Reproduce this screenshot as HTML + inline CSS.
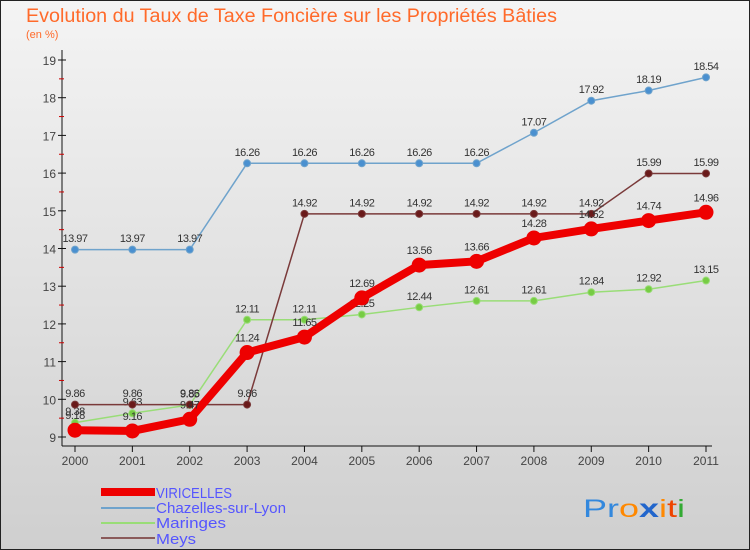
<!DOCTYPE html>
<html><head><meta charset="utf-8"><style>
body{margin:0;width:750px;height:550px;overflow:hidden;font-family:"Liberation Sans",sans-serif}
svg{display:block}
</style></head><body>
<svg id="chart" width="750" height="550" xmlns="http://www.w3.org/2000/svg" font-family="Liberation Sans, sans-serif">
<defs><linearGradient id="bg" x1="0" y1="0" x2="0" y2="1"><stop offset="0" stop-color="#f4f4f4"/><stop offset="1" stop-color="#cfcfcf"/></linearGradient></defs>
<rect width="750" height="550" fill="url(#bg)" stroke="#222" stroke-width="2"/>
<text x="26" y="22" font-size="19" fill="#ff6a2a" textLength="531" lengthAdjust="spacingAndGlyphs">Evolution du Taux de Taxe Foncière sur les Propriétés Bâties</text>
<text x="26" y="38" font-size="11" fill="#ff6a2a">(en %)</text>
<g id="axes"></g><g id="series"></g>
<g font-size="15" fill="#5555ff">
<line x1="101" y1="492" x2="155" y2="492" stroke="#ee0000" stroke-width="8"/>
<text x="156" y="498" textLength="76" lengthAdjust="spacingAndGlyphs">VIRICELLES</text>
<line x1="101" y1="508" x2="155" y2="508" stroke="#6fa3cc" stroke-width="2"/>
<text x="156" y="513" textLength="130" lengthAdjust="spacingAndGlyphs">Chazelles-sur-Lyon</text>
<line x1="101" y1="523" x2="155" y2="523" stroke="#99dd77" stroke-width="2"/>
<text x="156" y="528" textLength="70" lengthAdjust="spacingAndGlyphs">Maringes</text>
<line x1="101" y1="538" x2="155" y2="538" stroke="#8a5a5a" stroke-width="2"/>
<text x="156" y="544" textLength="40" lengthAdjust="spacingAndGlyphs">Meys</text>
</g>
<text x="583" y="517" font-size="25" textLength="102" lengthAdjust="spacingAndGlyphs"><tspan fill="#3388dd">Pr</tspan><tspan fill="#ff8800">o</tspan><tspan fill="#2266cc" font-weight="bold">x</tspan><tspan fill="#ff8800">i</tspan><tspan fill="#ee4400">t</tspan><tspan fill="#33aa33">i</tspan></text>
</svg>
<script>
const years=[2000,2001,2002,2003,2004,2005,2006,2007,2008,2009,2010,2011];
const viricelles=[9.18,9.16,9.47,11.24,11.65,12.69,13.56,13.66,14.28,14.52,14.74,14.96];
const chazelles=[13.97,13.97,13.97,16.26,16.26,16.26,16.26,16.26,17.07,17.92,18.19,18.54];
const maringes=[9.38,9.63,9.85,12.11,12.11,12.25,12.44,12.61,12.61,12.84,12.92,13.15];
const meys=[9.86,9.86,9.86,9.86,14.92,14.92,14.92,14.92,14.92,14.92,15.99,15.99];
const yTicks=[9,10,11,12,13,14,15,16,17,18,19];
const NS="http://www.w3.org/2000/svg";
const x=i=>75+i*(706-75)/(years.length-1);
const y=v=>437-(v-9)*37.7;
function mk(t,a,p){const e=document.createElementNS(NS,t);for(const k in a)e.setAttribute(k,a[k]);p.appendChild(e);return e;}
const ax=document.getElementById('axes');
let l=mk('line',{x1:62,y1:50,x2:62,y2:446,stroke:'#111'},ax);


l=mk('line',{x1:62,y1:446,x2:712,y2:446,stroke:'#111'},ax);


yTicks.forEach(v=>{
 mk('line',{x1:58,y1:y(v),x2:66,y2:y(v),stroke:'#111'},ax);
 if(v<19) mk('line',{x1:59,y1:y(v+0.5),x2:64,y2:y(v+0.5),stroke:'#cc0000'},ax);
 const t=mk('text',{x:56,y:y(v)+5,'font-size':12,'text-anchor':'end',fill:'#444'},ax);t.textContent=v;
 
 
});
years.forEach((yr,i)=>{
 mk('line',{x1:x(i),y1:446,x2:x(i),y2:452,stroke:'#111'},ax);
 const t=mk('text',{x:x(i),y:465,'font-size':12,'text-anchor':'middle',fill:'#444'},ax);t.textContent=yr;
 
 
});
const sg=document.getElementById('series');
function series(name,vals,color,w,r,dot){
 const g=mk('g',{},sg);
 
 
 mk('polyline',{points:vals.map((v,i)=>x(i)+','+y(v)).join(' '),fill:'none',stroke:color,'stroke-width':w},g);
 vals.forEach((v,i)=>{
  const c=mk('circle',{cx:x(i),cy:y(v),r:r,fill:dot,stroke:color,'stroke-width':1},g);
  
  
  const t=mk('text',{x:x(i),y:y(v)-r-4,'font-size':11,'text-anchor':'middle',fill:'#333','letter-spacing':'-0.5'},g);t.textContent=v.toFixed(2).replace(/0$/,'');
  
  
 });
}
series('chazelles',chazelles,'#6fa3cc',1.5,3.5,'#4a90d0');
series('maringes',maringes,'#99dd77',1.5,3.5,'#77cc44');
series('meys',meys,'#7a3a3a',1.5,3.5,'#6a1a1a');
series('viricelles',viricelles,'#ee0000',8,7,'#ee0000');
</script>
</body></html>
